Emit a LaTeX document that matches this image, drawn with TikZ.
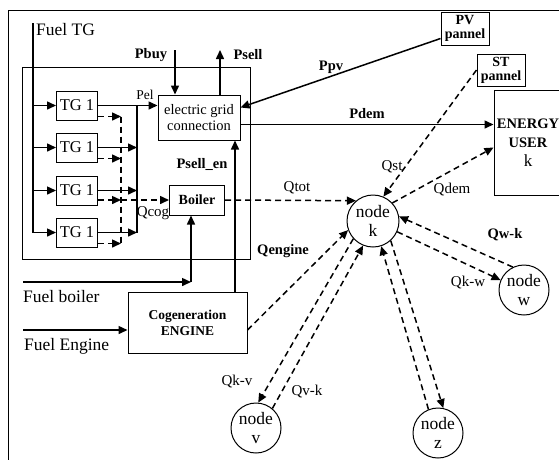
\documentclass[tikz,border=0pt]{standalone}
\usepackage{fontspec}
\setmainfont{Liberation Serif}
\usetikzlibrary{arrows.meta,calc}
\begin{document}
\begin{tikzpicture}[x=1pt,y=-1pt,
  box/.style={draw, line width=1pt, inner sep=1pt, align=center},
  circ/.style={draw, circle, line width=1pt, minimum size=50pt, inner sep=0pt, align=center, font=\fontsize{17.5}{19}\selectfont},
  ln/.style={line width=1.5pt},
  arr/.style={line width=1.5pt, -{Triangle[length=9pt,width=8pt]}},
  dsh/.style={arr, dash pattern=on 6pt off 4pt},
  dln/.style={line width=1.5pt, dash pattern=on 6pt off 4pt},
  lbl/.style={font=\fontsize{15}{16}\selectfont, inner sep=0pt},
  blbl/.style={font=\fontsize{14.5}{15}\selectfont\bfseries, inner sep=0pt},
  big/.style={font=\fontsize{17.5}{18}\selectfont, inner sep=0pt},
  tgbox/.style={box, minimum width=41pt, minimum height=29pt, font=\fontsize{16.5}{16}\selectfont}]
\clip (0,0) rectangle (559,459);
\draw[line width=1pt] (8,470) -- (8,10) -- (570,10);

% big box and TG units
\node[draw, line width=1pt, minimum width=228pt, minimum height=192pt] (bigbox) at (136,163) {};
\node[tgbox] (tg1) at (77,105.5) {TG 1};
\node[tgbox] (tg2) at (77,147.5) {TG 1};
\node[tgbox] (tg3) at (77,190.5) {TG 1};
\node[tgbox] (tg4) at (77,232.5) {TG 1};

\node[box, minimum width=82pt, minimum height=45pt, font=\fontsize{14.5}{16}\selectfont] (grid) at (199,117.5) {electric grid\\connection};
\node[box, minimum width=55pt, minimum height=30pt, font=\fontsize{14}{14}\selectfont\bfseries] (boiler) at (197,200) {Boiler};
\node[box, minimum width=119pt, minimum height=61pt, font=\fontsize{13.5}{16}\selectfont\bfseries] (cogen) at (187.5,322.5) {Cogeneration\\ENGINE};
\node[box, minimum width=48pt, minimum height=33pt, inner sep=0pt, font=\fontsize{14}{14}\selectfont\bfseries] (pv) at (465,28.5) {PV\\pannel};
\node[box, minimum width=48pt, minimum height=32pt, inner sep=0pt, font=\fontsize{14}{14}\selectfont\bfseries] (st) at (501,70) {ST\\pannel};
\node[box, minimum width=68pt, minimum height=105pt, font=\fontsize{14.5}{19}\selectfont\bfseries] (user) at (528,142.5) {ENERGY\\USER\\{\mdseries\fontsize{17}{19}\selectfont k}};

\node[circ, minimum size=52pt] (k) at (373,221) {node\\k};
\node[circ] (w) at (524,290) {node\\w};
\node[circ] (z) at (438,433) {node\\z};
\node[circ] (v) at (256,428) {node\\v};

% Fuel TG feed
\node[big, anchor=west] (fueltg) at (36,30) {Fuel TG};
\coordinate (ftop) at (33,23);
\coordinate (fbot) at (33,232.5);
\draw[ln] (ftop) -- (fbot);
\draw[arr] (ftop |- tg1.west) -- (tg1.west);
\draw[arr] (ftop |- tg2.west) -- (tg2.west);
\draw[arr] (ftop |- tg3.west) -- (tg3.west);
\draw[arr] (ftop |- tg4.west) -- (tg4.west);

% electric bus
\coordinate (bus) at (137,0);
\draw[ln] (bus |- tg1.east) -- (bus |- tg4.east);
\draw[arr] (tg1.east) -- (tg1.east -| grid.west);
\draw[arr] (tg2.east) -- (bus |- tg2.east);
\draw[arr] (tg3.east) -- (bus |- tg3.east);
\draw[arr] (tg4.east) -- (bus |- tg4.east);
\node[lbl, font=\fontsize{13.5}{14}\selectfont] (pel) at (145,95) {Pel};

% heat bus
\coordinate (dbus) at (121,0);
\coordinate (d1) at ($(tg1.south east)+(0,-4)$);
\coordinate (d2) at ($(tg2.south east)+(0,-4)$);
\coordinate (d3) at (tg3.east |- boiler.west);
\coordinate (d4) at ($(tg4.south east)+(0,-4)$);
\draw[dln] (dbus |- d1) -- (dbus |- d4);
\draw[dsh] (d1) -- (dbus |- d1);
\draw[dsh] (d2) -- (dbus |- d2);
\draw[dsh] (d3) -- (dbus |- d3);
\draw[dsh] (d4) -- (dbus |- d4);
\draw[dsh] (dbus |- d3) -- (boiler.west);
\node[lbl] (qcog) at (153,213) {Qcog};

% grid exchange
\coordinate (pbuy) at (175,50);
\coordinate (psell) at (220,50);
\draw[arr] (pbuy) -- (pbuy |- grid.north);
\draw[arr] (psell |- grid.north) -- (psell);
\node[blbl] (pbuyl) at (151,55) {Pbuy};
\node[blbl] (pselll) at (248,55) {Psell};
\coordinate (pse) at (235,0);
\draw[arr] (pse |- cogen.north) -- (pse |- grid.south);
\node[blbl] (psellen) at (202,164) {Psell\_en};

% fuels
\coordinate (fb0) at (23,282);
\coordinate (fbc) at (191,282);
\draw[arr] (fb0) -- (fbc);
\draw[arr] (fbc) -- (fbc |- boiler.south);
\node[big, anchor=west] (fuelb) at (23,297) {Fuel boiler};
\coordinate (fe0) at (23,330);
\draw[arr] (fe0) -- (fe0 -| cogen.west);
\node[big, anchor=west] (fuele) at (24,346) {Fuel Engine};

% power flows
\draw[arr] ($(pv.west)+(0,10)$) -- ($(grid.east)+(0,-10)$);
\node[blbl] (ppv) at (331,67) {Ppv};
\coordinate (pd) at ($(grid.east)+(0,7)$);
\draw[arr] (pd) -- (pd -| user.west);
\node[blbl] (pdem) at (367,114) {Pdem};

% heat flows
\draw[dsh] (boiler.east) -- (k.130);
\node[lbl] (qtot) at (297,188) {Qtot};
\draw[dsh] (st.west) -- (k.67);
\node[lbl] (qst) at (392,167) {Qst};
\draw[dsh] (k.43) -- ($(user.west)+(0,5)$);
\node[lbl] (qdem) at (452,190) {Qdem};
\draw[dsh] ($(cogen.east)+(0,7.5)$) -- (k.200);
\node[blbl] (qeng) at (283,251) {Qengine};
\draw[dsh] (w.116) -- (k.10);
\node[blbl] (qwk) at (505,235) {Qw-k};
\draw[dsh] (k.-24) -- (w.157);
\node[lbl] (qkw) at (468,283) {Qk-w};
\draw[dsh] (k.222) -- (v.85);
\node[lbl] (qkv) at (237,382) {Qk-v};
\draw[dsh] (v.50) -- (k.248);
\node[lbl] (qvk) at (307,392) {Qv-k};
\draw[dsh] (k.-48) -- (z.78);
\draw[dsh] (z.112) -- (k.-72);
\end{tikzpicture}
\end{document}
